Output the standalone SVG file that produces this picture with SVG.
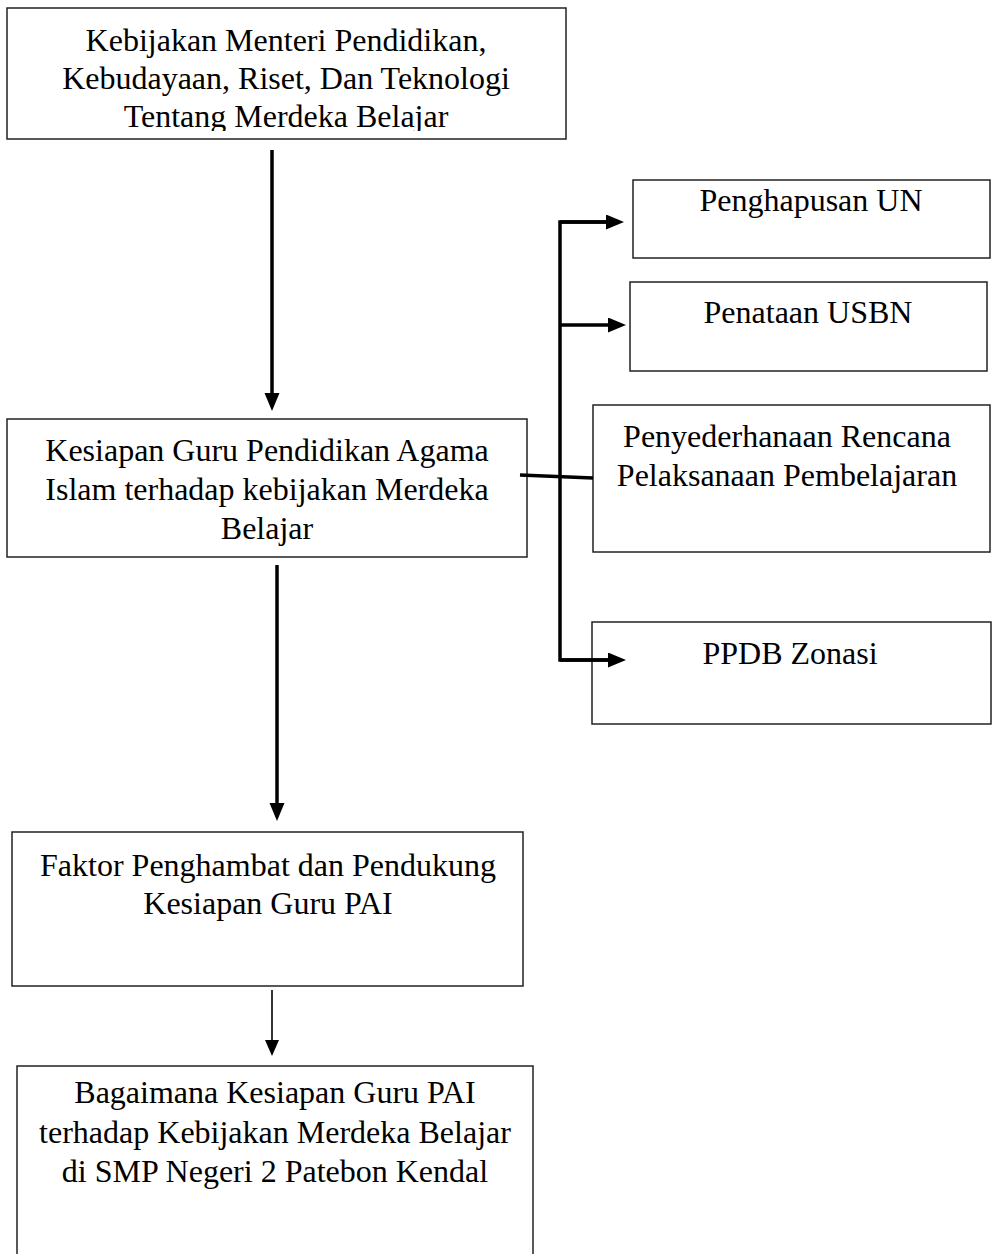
<svg xmlns="http://www.w3.org/2000/svg" width="1000" height="1254" viewBox="0 0 1000 1254">
<defs>
<style>
.box{fill:#fff;stroke:#222;stroke-width:1.5}
.t{font-family:"Liberation Serif","Times New Roman",serif;font-size:32px;fill:#000;text-anchor:middle}
.thick{stroke:#000;stroke-width:3.5;fill:none}
.thin{stroke:#000;stroke-width:1.6;fill:none}
</style>
<marker id="ah" markerUnits="userSpaceOnUse" markerWidth="20" markerHeight="16" refX="4" refY="7.5" orient="auto">
<path d="M0,0 L18,7.5 L0,15 Z" fill="#000"/>
</marker>
<marker id="ahs" markerUnits="userSpaceOnUse" markerWidth="18" markerHeight="16" refX="4" refY="7" orient="auto">
<path d="M0,0 L16,7 L0,14 Z" fill="#000"/>
</marker>
<clipPath id="c1"><rect x="0" y="0" width="1000" height="131"/></clipPath>
</defs>
<rect width="1000" height="1254" fill="#fff"/>
<g id="n1">
<rect class="box" x="7" y="8" width="559" height="131"/>
<text class="t" x="286" y="51">Kebijakan Menteri Pendidikan,</text>
<text class="t" x="286" y="89">Kebudayaan, Riset, Dan Teknologi</text>
<text class="t" x="286" y="127" clip-path="url(#c1)">Tentang Merdeka Belajar</text>
</g>
<g id="n2">
<rect class="box" x="633" y="180" width="357" height="78"/>
<text class="t" x="811" y="211">Penghapusan UN</text>
</g>
<g id="n3">
<rect class="box" x="630" y="282" width="357" height="89"/>
<text class="t" x="808" y="323">Penataan USBN</text>
</g>
<g id="n4">
<rect class="box" x="593" y="405" width="397" height="147"/>
<text class="t" x="787" y="447">Penyederhanaan Rencana</text>
<text class="t" x="787" y="486">Pelaksanaan Pembelajaran</text>
</g>
<g id="n5">
<rect class="box" x="592" y="622" width="399" height="102"/>
<text class="t" x="790" y="664">PPDB Zonasi</text>
</g>
<g id="n6">
<rect class="box" x="7" y="419" width="520" height="138"/>
<text class="t" x="267" y="461">Kesiapan Guru Pendidikan Agama</text>
<text class="t" x="267" y="500">Islam terhadap kebijakan Merdeka</text>
<text class="t" x="267" y="539">Belajar</text>
</g>
<g id="n7">
<rect class="box" x="12" y="832" width="511" height="154"/>
<text class="t" x="268" y="876">Faktor Penghambat dan Pendukung</text>
<text class="t" x="268" y="914">Kesiapan Guru PAI</text>
</g>
<g id="n8">
<rect class="box" x="17" y="1066" width="516" height="200"/>
<text class="t" x="275" y="1103">Bagaimana Kesiapan Guru PAI</text>
<text class="t" x="275" y="1143">terhadap Kebijakan Merdeka Belajar</text>
<text class="t" x="275" y="1182">di SMP Negeri 2 Patebon Kendal</text>
</g>
<g id="connectors">
<line class="thick" x1="272" y1="150" x2="272" y2="397" marker-end="url(#ah)"/>
<line class="thick" x1="277" y1="565" x2="277" y2="807" marker-end="url(#ah)"/>
<line class="thin" x1="272" y1="990" x2="272" y2="1044" marker-end="url(#ahs)"/>
<line class="thick" x1="520" y1="475" x2="593" y2="478"/>
<polyline class="thick" points="612,222 560,222 560,660 612,660"/>
<line class="thick" x1="560" y1="222" x2="610" y2="222" marker-end="url(#ah)"/>
<line class="thick" x1="560" y1="325" x2="612" y2="325" marker-end="url(#ah)"/>
<line class="thick" x1="560" y1="660" x2="612" y2="660" marker-end="url(#ah)"/>
</g>
</svg>
